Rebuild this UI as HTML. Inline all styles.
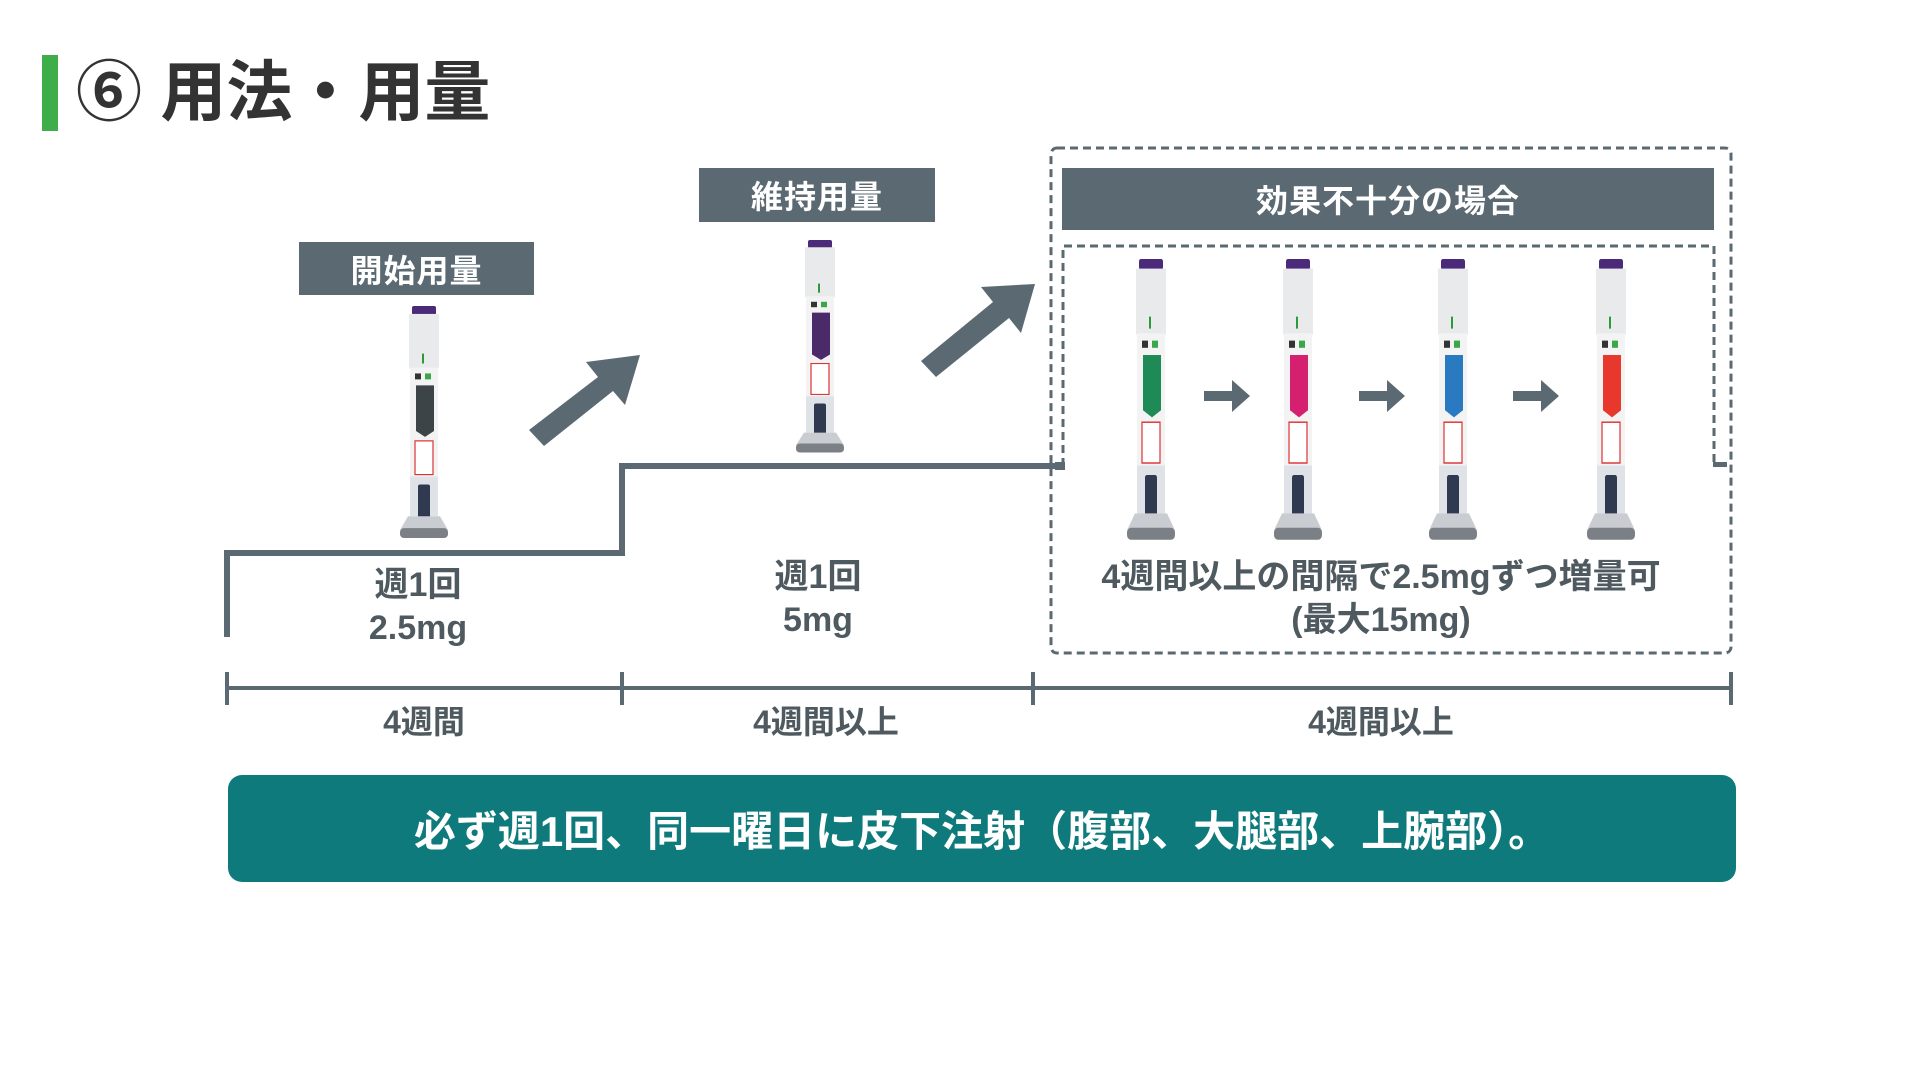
<!DOCTYPE html>
<html><head><meta charset="utf-8"><style>
body{margin:0;width:1920px;height:1080px;background:#fff;position:relative;overflow:hidden;font-family:"Liberation Sans","Noto Sans CJK JP",sans-serif;}
.a{position:absolute}
.lbl{position:absolute;background:#5b6a72;color:#fff;font-weight:bold;font-size:32px;display:flex;align-items:center;justify-content:center;letter-spacing:1px}
.t{position:absolute;color:#4f5a60;font-weight:bold;font-size:34px;text-align:center;line-height:43px;transform:translateX(-50%);white-space:nowrap}
</style></head><body>
<div class="a" style="left:42px;top:55px;width:16px;height:76px;background:#3fae4a"></div>
<div class="a" style="left:76px;top:52px;font-size:66px;font-weight:bold;color:#333;line-height:80px">⑥ 用法・用量</div>

<div class="lbl" style="left:299px;top:242px;width:235px;height:53px">開始用量</div>
<div class="lbl" style="left:699px;top:168px;width:236px;height:54px">維持用量</div>
<div class="lbl" style="left:1062px;top:168px;width:652px;height:62px">効果不十分の場合</div>

<svg class="a" style="left:0;top:0" width="1920" height="1080">
<defs>
<symbol id="pen" viewBox="0 0 60 240" preserveAspectRatio="none">
<rect x="18" y="0" width="24" height="9" rx="2" fill="#4b2a7a"/>
<rect x="15" y="8" width="30" height="55" fill="#e9eaec"/>
<rect x="28" y="48" width="2" height="10" fill="#2a9a3a"/>
<rect x="16" y="62" width="28" height="110" fill="#f3f3f3"/>
<rect x="21" y="68" width="6" height="6" fill="#333"/>
<rect x="31" y="68" width="6" height="6" fill="#3aa84a"/>
<path d="M22 80h18v46l-9 6l-9-6z" fill="var(--c)"/>
<rect x="21" y="136" width="18" height="34" fill="#fff" stroke="#d33" stroke-width="1.2"/>
<rect x="16" y="172" width="28" height="40" fill="#dfe3e8"/>
<rect x="24" y="180" width="12" height="38" rx="2" fill="#2f3a50"/>
<path d="M14 212h32l8 14h-48z" fill="#c9ccd1"/>
<rect x="6" y="224" width="48" height="10" rx="4" fill="#7b7f86"/>
</symbol>
</defs>
<g fill="none" stroke="#5b6a72" stroke-width="6">
<path d="M227 637V553H622V466H1063"/>
</g>
<g fill="none" stroke="#5b6a72" stroke-width="3" stroke-dasharray="8 5">
<rect x="1051" y="148" width="680" height="505" rx="6"/>
<path d="M1063 466V246H1714V466"/>
</g>
<rect x="1055" y="462" width="10" height="8" fill="#5b6a72"/>
<rect x="1713" y="462" width="14" height="5" fill="#5b6a72"/>
<use href="#pen" x="394" y="306" width="60" height="238" style="--c:#3c4448"/>
<use href="#pen" x="790" y="240" width="60" height="218" style="--c:#4b2a6a"/>
<use href="#pen" x="1121" y="259" width="60" height="288" style="--c:#1e8a56"/>
<use href="#pen" x="1268" y="259" width="60" height="288" style="--c:#d4206e"/>
<use href="#pen" x="1423" y="259" width="60" height="288" style="--c:#2a7ac2"/>
<use href="#pen" x="1581" y="259" width="60" height="288" style="--c:#e8372c"/>
<g fill="#5b6a72">
<path d="M1204 391h28v-11l18 16l-18 16v-11h-28z"/>
<path d="M1359 391h28v-11l18 16l-18 16v-11h-28z"/>
<path d="M1513 391h28v-11l18 16l-18 16v-11h-28z"/>
<path d="M529 430L598 377L586 362L640 355L625 405L613 391L544 446z"/>
<path d="M921 361L993 302L981 287L1035 284L1021 333L1009 318L936 377z"/>
</g>
<g stroke="#5b6a72" stroke-width="4" fill="none">
<path d="M227 688H1731M227 672V705M622 672V705M1033 672V705M1731 672V705"/>
</g>
</svg>

<div class="t" style="left:418px;top:564px">週1回<br>2.5mg</div>
<div class="t" style="left:818px;top:556px">週1回<br>5mg</div>
<div class="t" style="left:1381px;top:556px">4週間以上の間隔で2.5mgずつ増量可<br>(最大15mg)</div>
<div class="t" style="left:424px;top:701px;font-size:32px">4週間</div>
<div class="t" style="left:826px;top:701px;font-size:32px">4週間以上</div>
<div class="t" style="left:1381px;top:701px;font-size:32px">4週間以上</div>

<div class="a" style="left:228px;top:775px;width:1508px;height:107px;background:#0f7a7c;border-radius:14px;color:#fff;font-weight:bold;font-size:42px;display:flex;align-items:center;justify-content:center">必ず週1回、同一曜日に皮下注射（腹部、大腿部、上腕部）。</div>
</body></html>
